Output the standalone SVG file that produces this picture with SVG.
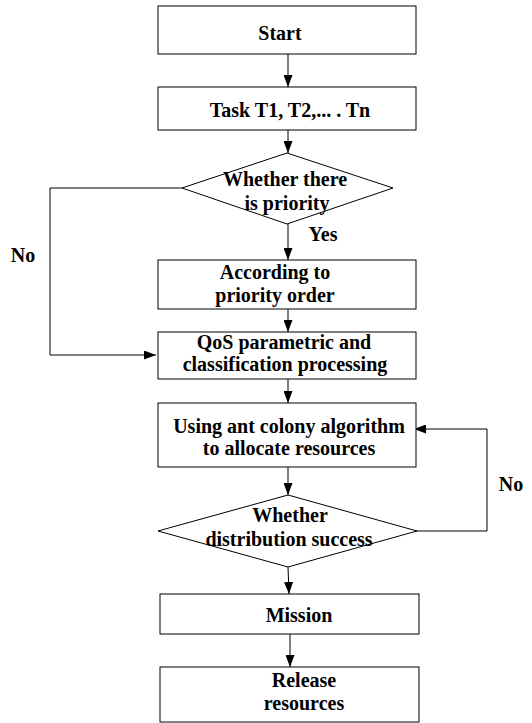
<svg xmlns="http://www.w3.org/2000/svg" width="532" height="723" viewBox="0 0 532 723">
<style>
.box{fill:#fff;stroke:#000;stroke-width:1}
.ln{fill:none;stroke:#000;stroke-width:1}
text{font-family:"Liberation Serif","Times New Roman",serif;font-weight:bold;font-size:20px;fill:#000;text-anchor:middle}
</style>
<defs>
<marker id="ah" viewBox="0 0 12 9" refX="12" refY="4.5" markerWidth="12" markerHeight="9" markerUnits="userSpaceOnUse" orient="auto">
<path d="M0,0 L12,4.5 L0,9 Z" fill="#000"/>
</marker>
</defs>
<g id="connectors">
<line class="ln" x1="288" y1="54" x2="288" y2="87" marker-end="url(#ah)"/>
<line class="ln" x1="288" y1="130" x2="288" y2="153" marker-end="url(#ah)"/>
<line class="ln" x1="288" y1="224" x2="288" y2="260" marker-end="url(#ah)"/>
<polyline class="ln" points="182,188 50,188 50,355 156,355" marker-end="url(#ah)"/>
<line class="ln" x1="288" y1="309" x2="288" y2="332" marker-end="url(#ah)"/>
<line class="ln" x1="288" y1="379" x2="288" y2="403" marker-end="url(#ah)"/>
<line class="ln" x1="288" y1="467" x2="288" y2="495" marker-end="url(#ah)"/>
<polyline class="ln" points="394,531 487,531 487,429 414,429" marker-end="url(#ah)"/>
<line class="ln" x1="288" y1="567" x2="289" y2="594" marker-end="url(#ah)"/>
<line class="ln" x1="290" y1="634" x2="290" y2="667" marker-end="url(#ah)"/>
<text x="323" y="241">Yes</text>
<text x="23" y="262">No</text>
<text x="511" y="491">No</text>
</g>
<g id="start"><rect class="box" x="158" y="6" width="258" height="48"/><text x="280" y="40">Start</text></g>
<g id="task"><rect class="box" x="158" y="87" width="258" height="43"/><text x="290" y="117">Task T1, T2,... . Tn</text></g>
<g id="priority"><polygon class="box" points="287,153 393,188 287,224 182,188"/><text x="285" y="186">Whether there</text><text x="287" y="210">is priority</text></g>
<g id="order"><rect class="box" x="158" y="260" width="258" height="49"/><text x="275" y="279">According to</text><text x="275" y="302">priority order</text></g>
<g id="qos"><rect class="box" x="158" y="332" width="258" height="47"/><text x="284" y="349">QoS parametric and</text><text x="285" y="371">classification processing</text></g>
<g id="ant"><rect class="box" x="158" y="403" width="258" height="64"/><text x="289" y="433">Using ant colony algorithm</text><text x="289" y="455">to allocate resources</text></g>
<g id="success"><polygon class="box" points="288,495 417,531 288,567 158,531"/><text x="290" y="522">Whether</text><text x="289" y="546">distribution success</text></g>
<g id="mission"><rect class="box" x="160" y="594" width="259" height="40"/><text x="299" y="622">Mission</text></g>
<g id="release"><rect class="box" x="160" y="667" width="259" height="55"/><text x="304" y="687">Release</text><text x="304" y="710">resources</text></g>
</svg>
